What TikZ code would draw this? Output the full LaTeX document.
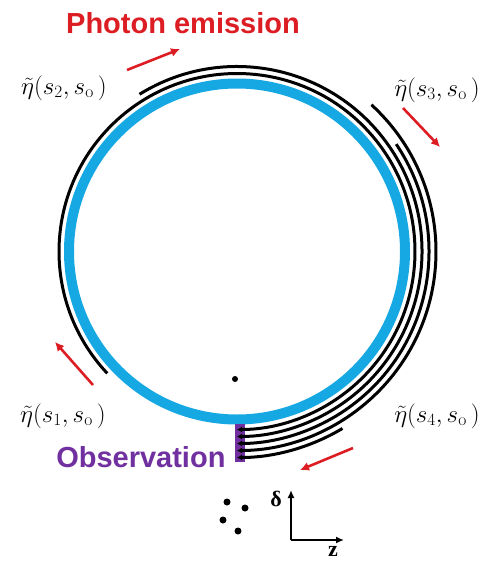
\documentclass[tikz,border=0pt]{standalone}
\usepackage{amsmath}
\usepackage{fontspec}
\newfontfamily\arialfont{Liberation Sans}
\newfontfamily\timesfont{Liberation Serif}
\usetikzlibrary{positioning,arrows.meta}
\definecolor{ringblue}{RGB}{22,168,226}
\definecolor{emitred}{RGB}{220,30,36}
\definecolor{obspurple}{RGB}{112,48,160}

\begin{document}
\begin{tikzpicture}[
    x=1pt, y=-1pt,
    ring/.style={draw=ringblue, line width=10pt},
    photon/.style={draw, line width=3pt, -{Latex[length=5pt,width=6pt]}},
    emit/.style={draw=emitred, line width=2.6pt, -{Latex[length=9pt,width=9pt]}},
    etalabel/.style={font=\fontsize{25}{28}\selectfont},
    bigsans/.style={font=\arialfont\bfseries\fontsize{29}{32}\selectfont},
    dot/.style={circle, fill, inner sep=0pt, minimum size=7pt},
    axis/.style={line width=2.4pt, -{Latex[length=8pt,width=7pt]}}
]
\useasboundingbox (0,0) rectangle (494,565);

\coordinate (c) at (237,251.5);
\draw[ring] (c) circle[radius=168];
\node[dot, minimum size=6pt] (mid) at (235,379) {};

% observation point
\node[fill=obspurple, minimum width=10pt, minimum height=38pt, inner sep=0pt] (obs) at (240,443) {};
\node[bigsans, text=obspurple, anchor=east] (obstxt) at (229,457) {Observation};

% photon paths, clockwise down to the observation point
\draw[photon] (c) ++(136.8:178) arc[start angle=136.8, end angle=450, radius=178];
\draw[photon] (c) ++(238.2:185) arc[start angle=238.2, end angle=450, radius=185];
\draw[photon] (c) ++(326:192) arc[start angle=326, end angle=450, radius=192];
\draw[photon] (c) ++(312.5:199) arc[start angle=312.5, end angle=450, radius=199];
\draw[photon] (c) ++(59.2:206) arc[start angle=59.2, end angle=90, radius=206];

% emission directions
\node[bigsans, text=emitred] (title) at (183,23) {Photon emission};
\draw[emit] (127,70) -- (180,49);
\draw[emit] (403,108) -- (440,147);
\draw[emit] (93,385) -- (55,342);
\draw[emit] (353,448) -- (300,470);

\node[etalabel] (s2) at (64,88) {$\tilde{\eta}(s_2,s_{\mathrm{o}}\,)$};
\node[etalabel] (s3) at (437,90) {$\tilde{\eta}(s_3,s_{\mathrm{o}}\,)$};
\node[etalabel] (s1) at (63,416) {$\tilde{\eta}(s_1,s_{\mathrm{o}}\,)$};
\node[etalabel] (s4) at (437,416) {$\tilde{\eta}(s_4,s_{\mathrm{o}}\,)$};

% bunch
\node[dot] (b1) at (227,502) {};
\node[dot] (b2) at (245,508) {};
\node[dot] (b3) at (223,520) {};
\node[dot] (b4) at (238,531) {};

% axes
\coordinate (o) at (291,540);
\draw[axis] (o) -- ++(0,-50);
\draw[axis] (o) -- ++(53,0);
\node[font=\timesfont\bfseries\fontsize{22}{24}\selectfont] (dl) at (276,499) {δ};
\node[font=\timesfont\bfseries\fontsize{22}{24}\selectfont] (zl) at (333,551) {z};
\end{tikzpicture}
\end{document}
